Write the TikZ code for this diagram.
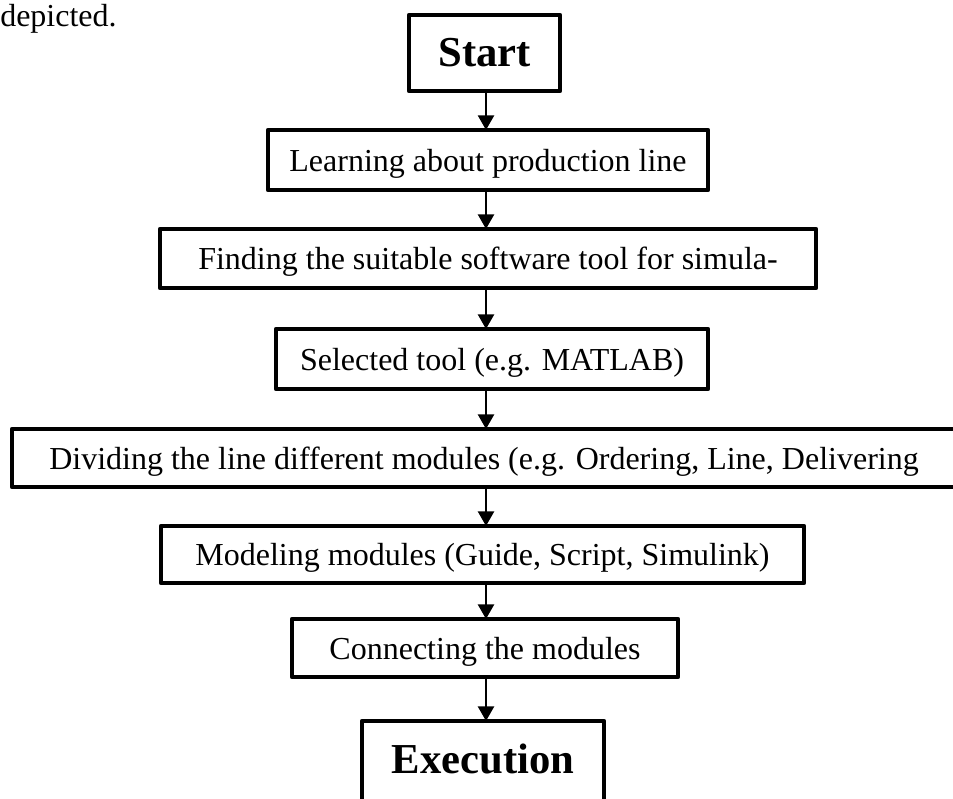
\documentclass[tikz,border=0pt]{standalone}
\usepackage{fontspec}
\setmainfont{Liberation Serif}
\usetikzlibrary{arrows.meta}
\begin{document}
\begin{tikzpicture}[x=0.75pt,y=-0.75pt,
  box/.style={draw, line width=3.3pt, line join=round, inner sep=0pt, outer sep=0pt,
    font=\fontsize{24}{28}\selectfont, text height=21pt, text depth=4.5pt, align=center},
  bigbox/.style={box, font=\fontsize{32}{38}\selectfont\bfseries},
  conn/.style={line width=1.9pt, -{Triangle[length=11pt,width=12pt]}}]
\clip (0,0) rectangle (953,799);
\coordinate (ax) at (486,0);
\node[anchor=base west, inner sep=0pt, font=\fontsize{24}{28}\selectfont] (dep) at (0,27) {depicted.};
\node[bigbox, minimum width=113.25pt, minimum height=57pt, text height=23pt, text depth=2pt] (start) at (484.5,53) {Start};
\node[box, minimum width=330pt, minimum height=45pt] (learn) at (488,160) {Learning about production line};
\node[box, minimum width=492pt, minimum height=44.25pt] (find) at (488,258.5) {Finding the suitable software tool for simula-};
\node[box, minimum width=324pt, minimum height=45pt] (sel) at (492,359) {Selected tool (e.g. MATLAB)};
\node[box, minimum width=708pt, minimum height=43.5pt] (div) at (484,458) {Dividing the line different modules (e.g. Ordering, Line, Delivering};
\node[box, minimum width=482.25pt, minimum height=42.75pt] (mod) at (482.5,554.5) {Modeling modules (Guide, Script, Simulink)};
\node[box, minimum width=289.5pt, minimum height=43.5pt] (con) at (485,648) {Connecting the modules};
\node[bigbox, minimum width=181.5pt, minimum height=63pt, text height=22pt, text depth=7pt] (exe) at (483,763) {Execution};
\draw[conn] (start.south -| ax) -- (learn.north -| ax);
\draw[conn] (learn.south -| ax) -- (find.north -| ax);
\draw[conn] (find.south -| ax) -- (sel.north -| ax);
\draw[conn] (sel.south -| ax) -- (div.north -| ax);
\draw[conn] (div.south -| ax) -- (mod.north -| ax);
\draw[conn] (mod.south -| ax) -- (con.north -| ax);
\draw[conn] (con.south -| ax) -- (exe.north -| ax);
\end{tikzpicture}
\end{document}
